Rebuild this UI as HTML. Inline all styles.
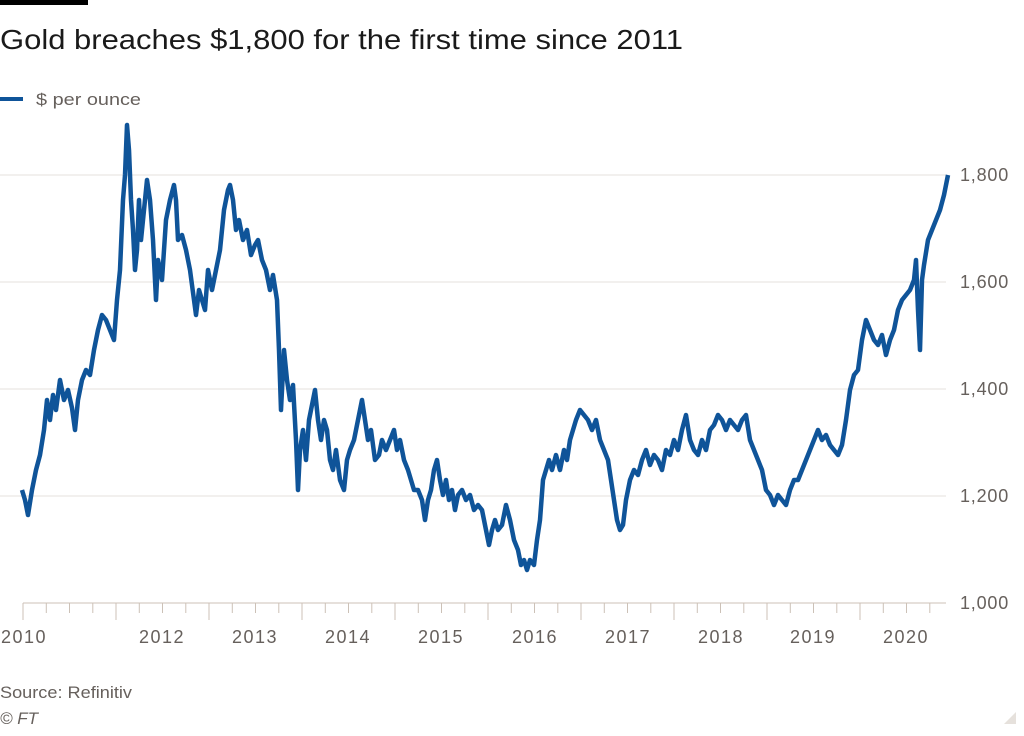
<!DOCTYPE html>
<html><head><meta charset="utf-8"><style>
body{margin:0;background:#fff;width:1024px;height:731px;overflow:hidden;font-family:"Liberation Sans",sans-serif}
</style></head><body>
<svg width="1024" height="731" xmlns="http://www.w3.org/2000/svg" font-family="Liberation Sans, sans-serif">
<rect x="0" y="0" width="88" height="5" fill="#000"/>
<text x="0" y="49" font-size="28" fill="#1a1a1a" textLength="683" lengthAdjust="spacingAndGlyphs">Gold breaches $1,800 for the first time since 2011</text>
<line x1="0" y1="99" x2="23" y2="99" stroke="#0f5499" stroke-width="4"/>
<text x="36" y="105" font-size="17" fill="#66605c" textLength="105" lengthAdjust="spacingAndGlyphs">$ per ounce</text>
<g stroke="#e6e1dc" stroke-width="1">
<line x1="0" y1="175" x2="946" y2="175"/>
<line x1="0" y1="282" x2="946" y2="282"/>
<line x1="0" y1="389" x2="946" y2="389"/>
<line x1="0" y1="496" x2="946" y2="496"/>
</g>
<line x1="23" y1="603" x2="946" y2="603" stroke="#ccc1b7" stroke-width="1"/>
<g stroke="#ccc1b7" stroke-width="1" id="ticks"></g>
<g font-size="18" fill="#66605c" text-anchor="start" letter-spacing="0.8">
<text x="960" y="181">1,800</text>
<text x="960" y="288">1,600</text>
<text x="960" y="395">1,400</text>
<text x="960" y="502">1,200</text>
<text x="960" y="609">1,000</text>
</g>
<g font-size="18" fill="#66605c" text-anchor="middle" letter-spacing="1.5">
<text x="24" y="643">2010</text>
<text x="162" y="643">2012</text>
<text x="255" y="643">2013</text>
<text x="348" y="643">2014</text>
<text x="441" y="643">2015</text>
<text x="535" y="643">2016</text>
<text x="628" y="643">2017</text>
<text x="721" y="643">2018</text>
<text x="813" y="643">2019</text>
<text x="906" y="643">2020</text>
</g>
<polyline fill="none" stroke="#0f5499" stroke-width="4.5" stroke-linejoin="round" points="22,490 25,500 28,515 32,490 36,470 40,455 44,430 47,400 50,420 53,395 56,410 60,380 64,400 68,390 72,408 75,430 78,400 82,380 86,370 90,375 94,350 98,330 102,315 106,320 110,330 114,340 117,300 120,270 123,200 125,175 127,125 129,150 131,200 133,230 135,270 137,250 139,200 141,240 144,210 147,180 150,200 153,240 156,300 158,260 162,280 166,220 170,200 174,185 176,200 178,240 182,235 186,250 190,270 194,300 196,315 199,290 202,300 205,310 208,270 212,290 216,270 220,250 224,210 228,190 230,185 233,200 236,230 239,220 243,240 247,230 251,255 255,245 258,240 262,260 266,270 270,290 273,275 277,300 279,350 281,410 284,350 287,380 290,400 293,385 296,440 298,490 300,450 303,430 306,460 309,420 312,405 315,390 318,420 321,440 324,420 327,430 330,460 333,470 336,450 340,480 344,490 347,460 350,450 354,440 358,420 362,400 365,420 368,440 371,430 375,460 379,455 382,440 386,450 390,440 394,430 397,450 400,440 404,460 408,470 411,480 414,490 418,490 422,500 425,520 428,500 431,490 434,470 437,460 440,480 443,495 446,480 449,500 452,490 455,510 458,495 462,490 466,500 470,495 474,510 478,505 482,510 486,530 489,545 492,530 495,520 498,530 502,525 506,505 510,520 514,540 518,550 521,565 524,560 527,570 530,560 534,565 537,540 540,520 543,480 546,470 549,460 552,470 556,455 560,470 564,450 567,460 570,440 573,430 576,420 580,410 584,415 588,420 592,430 596,420 600,440 604,450 608,460 611,480 614,500 617,520 620,530 623,525 626,500 630,480 634,470 638,475 642,460 646,450 650,465 654,455 658,460 662,470 666,450 670,455 674,440 678,450 682,430 686,415 690,440 694,450 698,455 702,440 706,450 710,430 714,425 718,415 722,420 726,430 730,420 734,425 738,430 742,420 746,415 750,440 754,450 758,460 762,470 766,490 770,495 774,505 778,495 782,500 786,505 790,490 794,480 798,480 802,470 806,460 810,450 814,440 818,430 822,440 826,435 830,445 834,450 838,455 842,445 846,420 850,390 854,375 858,370 862,340 866,320 870,330 874,340 878,345 882,335 886,355 890,340 894,330 898,310 902,300 906,295 910,290 914,280 916,260 918,310 920,350 922,280 924,265 928,240 932,230 936,220 940,210 944,195 946,185 948,175"/>
<text x="0" y="698" font-size="17" fill="#66605c" textLength="132" lengthAdjust="spacingAndGlyphs">Source: Refinitiv</text>
<text x="0" y="724" font-size="17" fill="#66605c" font-style="italic">© FT</text>
<polygon points="1016,712 1016,724 1004,724" fill="#e6e1dc"/>
</svg>
<script>
var g=document.getElementById('ticks'),s='';
for(var x=23;x<=947;x+=23.25){s+='<line x1="'+x.toFixed(1)+'" y1="603" x2="'+x.toFixed(1)+'" y2="'+(Math.round((x-23)/23.25)%4==0?620:613)+'"/>';}
g.innerHTML=s;
</script>
</body></html>
